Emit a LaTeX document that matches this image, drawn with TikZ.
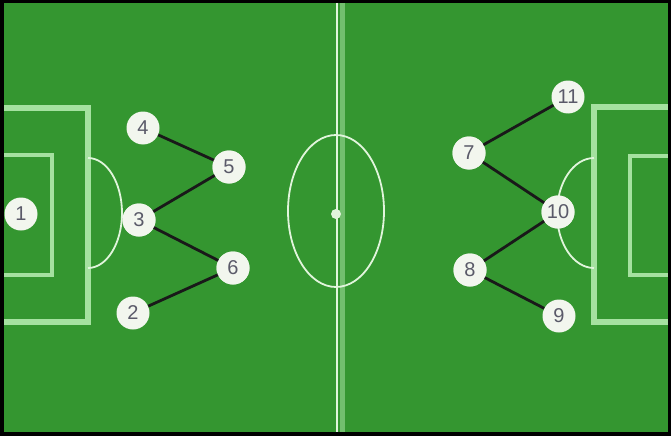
\documentclass[tikz,border=0pt]{standalone}
\usepackage{fontspec}
\setmainfont{Liberation Sans}
\definecolor{pitch}{RGB}{52,150,48}
\definecolor{markline}{RGB}{165,225,160}
\definecolor{thinline}{RGB}{225,245,220}
\definecolor{playerfill}{RGB}{242,246,238}
\definecolor{digit}{RGB}{90,90,105}
\begin{document}
\begin{tikzpicture}[x=1pt,y=-1pt,
  player/.style={circle,fill=playerfill,minimum size=33pt,inner sep=0pt,
    text=digit,font=\fontsize{20}{20}\selectfont},
  link/.style={draw=black!90,line width=2.8pt},
  boxline/.style={draw=markline,line width=5.5pt},
  goalline/.style={draw=markline,line width=4pt},
  arcline/.style={draw=thinline,line width=1.8pt}]
\useasboundingbox (0,0) rectangle (671,436);
\fill[black] (0,0) rectangle (671,436);
\fill[pitch] (4,3) rectangle (668,432);
% halfway line
\draw[draw=markline!55!pitch,line width=5pt] (342,3) -- (342,432);
\draw[draw=thinline,line width=2.5pt] (337,3) -- (337,432);
% centre circle and spot
\draw[arcline] (336,211) ellipse [x radius=48, y radius=76];
\fill[thinline] (336,214) circle [radius=5];
% left penalty area
\draw[boxline] (4,108) -- (88,108) -- (88,322) -- (4,322);
\draw[goalline] (4,155) -- (52,155) -- (52,275) -- (4,275);
\draw[arcline] (88,158) arc [start angle=-90, end angle=90, x radius=34, y radius=55];
% right penalty area
\draw[boxline] (668,107) -- (594,107) -- (594,322) -- (668,322);
\draw[goalline] (668,156) -- (630,156) -- (630,275) -- (668,275);
\draw[arcline] (594,158) arc [start angle=270, end angle=90, x radius=37, y radius=55];
% players
\node[player] (p1) at (21,214) {1};
\node[player] (p2) at (133,313) {2};
\node[player] (p3) at (139,220) {3};
\node[player] (p4) at (143,128) {4};
\node[player] (p5) at (229,167) {5};
\node[player] (p6) at (233,268) {6};
\node[player] (p7) at (469,153) {7};
\node[player] (p8) at (470,270) {8};
\node[player] (p9) at (559,316) {9};
\node[player] (p10) at (558,212) {10};
\node[player] (p11) at (568,97) {11};
% links
\draw[link] (p4) -- (p5.center);
\draw[link] (p5.center) -- (p3.center);
\draw[link] (p3.center) -- (p6.center);
\draw[link] (p6.center) -- (p2);
\draw[link] (p11) -- (p7.center);
\draw[link] (p7.center) -- (p10.center);
\draw[link] (p10.center) -- (p8.center);
\draw[link] (p8.center) -- (p9);
% redraw players on top of the links
\foreach \n/\t in {p3/3,p5/5,p6/6,p7/7,p8/8,p10/10}{
  \node[player] at (\n) {\t};
}
\end{tikzpicture}
\end{document}
